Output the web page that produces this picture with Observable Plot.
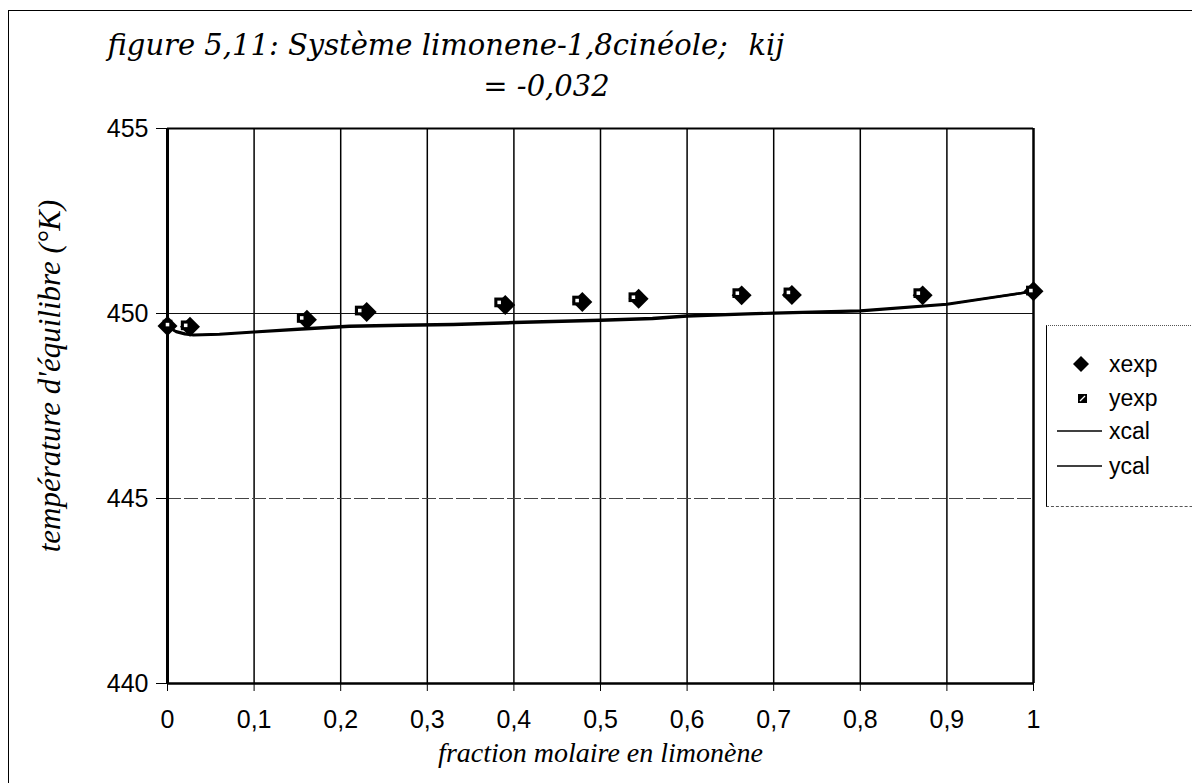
<!DOCTYPE html>
<html>
<head>
<meta charset="utf-8">
<script src="https://cdn.jsdelivr.net/npm/d3@7"></script>
<script src="https://cdn.jsdelivr.net/npm/@observablehq/plot@0.6"></script>
<style>
  html, body { margin: 0; padding: 0; background: #fff; overflow: hidden; }
  #wrap { position: relative; width: 1192px; height: 783px; overflow: hidden; }
  #border { position: absolute; left: 8px; top: 10px; width: 1300px; height: 900px;
            border-left: 1.5px solid #000; border-top: 1.5px solid #000; }
  #legend { position: absolute; left: 1046px; top: 325px; width: 200px; height: 180px;
            border-left: 1.5px solid #000; border-top: 1.5px dotted #555; border-bottom: 1.5px dashed #555;
            font-family: "Liberation Sans", Arial, sans-serif; font-size: 23px; color: #000; }
  .row { position: absolute; left: 0; height: 30px; display: flex; align-items: center; }
  .row svg { width: 60px; height: 30px; }
  .row span { margin-left: 2px; }
  #chart { position: absolute; left: 0; top: 0; }
</style>
</head>
<body>
<div id="wrap">
  <div id="border"></div>
  <div id="chart"></div>
  <div id="legend"></div>
</div>
<script>
// Experimental points: liquid (xexp) and vapour (yexp) compositions
const xexpX = [0, 0.026, 0.161, 0.230, 0.390, 0.479, 0.544, 0.663, 0.721, 0.872, 1.0];
const xexpT = [449.66, 449.64, 449.83, 450.04, 450.23, 450.31, 450.40, 450.49, 450.50, 450.49, 450.60];
const yexpX = [0, 0.021, 0.155, 0.222, 0.383, 0.473, 0.538, 0.658, 0.717, 0.867, 0.997];
const yexpT = [449.70, 449.68, 449.88, 450.08, 450.30, 450.35, 450.44, 450.55, 450.57, 450.55, 450.62];

// Calculated bubble (xcal) and dew (ycal) curves
const calX  = [0, 0.01, 0.02, 0.03, 0.06, 0.10, 0.16, 0.21, 0.27, 0.33, 0.40, 0.50, 0.56, 0.60, 0.67, 0.70, 0.80, 0.90, 1.0];
const xcalT = [449.64, 449.52, 449.46, 449.43, 449.45, 449.51, 449.60, 449.67, 449.70, 449.72, 449.77, 449.83, 449.88, 449.95, 450.00, 450.02, 450.08, 450.26, 450.60];
const ycalT = [449.64, 449.50, 449.44, 449.41, 449.43, 449.49, 449.57, 449.64, 449.67, 449.69, 449.74, 449.80, 449.85, 449.92, 449.98, 450.00, 450.06, 450.24, 450.60];

const xTicks = [0, 0.1, 0.2, 0.3, 0.4, 0.5, 0.6, 0.7, 0.8, 0.9, 1];
const yTicks = [440, 445, 450, 455];
const xTickLabels = ["0", "0,1", "0,2", "0,3", "0,4", "0,5", "0,6", "0,7", "0,8", "0,9", "1"];

const titleMain = "figure 5,11: Système limonene-1,8cinéole;";
const titleKij = "kij";
const titleLine2 = "= -0,032";
const xLabel = "fraction molaire en limonène";
const yLabel = "température d'équilibre (°K)";

const legendItems = [
  {name: "xexp", kind: "diamond"},
  {name: "yexp", kind: "square"},
  {name: "xcal", kind: "line"},
  {name: "ycal", kind: "line"}
];

const pts = (xs, ts) => xs.map((x, i) => ({x, t: ts[i]}));
const xexp = pts(xexpX, xexpT);
const yexp = pts(yexpX, yexpT);
const xcal = pts(calX, xcalT);
const ycal = pts(calX, ycalT);

const sans = "'Liberation Sans', Arial, sans-serif";
const serif = "'Liberation Serif', 'DejaVu Serif', serif";
const titleFont = "'DejaVu Serif', serif";

const chart = Plot.plot({
  width: 1192,
  height: 783,
  marginLeft: 167,
  marginRight: 159,
  marginTop: 128,
  marginBottom: 100,
  style: {fontFamily: sans, color: "#000", background: "transparent"},
  x: {domain: [0, 1]},
  y: {domain: [440, 455]},
  marks: [
    // grid
    Plot.ruleX(xTicks.slice(1, -1), {stroke: "#000", strokeWidth: 1.5}),
    Plot.ruleY([450], {stroke: "#111", strokeWidth: 1.2}),
    Plot.ruleY([445], {stroke: "#444", strokeWidth: 1, strokeDasharray: "14,3"}),
    // plot frame
    Plot.ruleX([0], {stroke: "#000", strokeWidth: 3}),
    Plot.ruleX([1], {stroke: "#000", strokeWidth: 2.5}),
    Plot.ruleY([440], {stroke: "#000", strokeWidth: 2.5}),
    Plot.ruleY([455], {stroke: "#000", strokeWidth: 2}),
    // axis ticks, with their labels as text marks
    Plot.axisX({ticks: xTicks, tickSize: 8, tickFormat: () => "", label: null}),
    Plot.axisY({ticks: yTicks, tickSize: 11, tickFormat: () => "", label: null}),
    Plot.text(xTicks, {x: d => d, text: (d, i) => xTickLabels[i], frameAnchor: "bottom", lineAnchor: "middle", dy: 36, fontSize: 25, fontFamily: sans, fill: "#000"}),
    Plot.text(yTicks, {y: d => d, text: d => String(d), frameAnchor: "left", textAnchor: "end", dx: -19, fontSize: 25, fontFamily: sans, fill: "#000"}),
    // calculated curves
    Plot.line(ycal, {x: "x", y: "t", stroke: "#000", strokeWidth: 2.4}),
    Plot.line(xcal, {x: "x", y: "t", stroke: "#000", strokeWidth: 2.4}),
    // experimental points
    Plot.dot(yexp, {x: "x", y: "t", symbol: "square", r: 5.5, fill: "#000", stroke: "none"}),
    Plot.dot(xexp, {x: "x", y: "t", symbol: "diamond2", r: 9, fill: "#000", stroke: "none"}),
    Plot.dot(yexp, {x: "x", y: "t", symbol: "square", r: 2, fill: "#fff", stroke: "none"}),
    // titles
    Plot.text([titleMain], {frameAnchor: "top", dx: -493, dy: -83, textAnchor: "start", lineAnchor: "middle", fontSize: 29, fontStyle: "italic", fontFamily: titleFont}),
    Plot.text([titleKij], {frameAnchor: "top", dx: 148, dy: -83, textAnchor: "start", lineAnchor: "middle", fontSize: 29, fontStyle: "italic", fontFamily: titleFont}),
    Plot.text([titleLine2], {frameAnchor: "top", dx: -54, dy: -42, textAnchor: "middle", lineAnchor: "middle", fontSize: 29, fontStyle: "italic", fontFamily: titleFont}),
    Plot.text([xLabel], {frameAnchor: "bottom", dx: 0, dy: 70, textAnchor: "middle", lineAnchor: "middle", fontSize: 28, fontStyle: "italic", fontFamily: serif}),
    Plot.text([yLabel], {frameAnchor: "left", dx: -117, dy: -30, rotate: -90, textAnchor: "middle", lineAnchor: "middle", fontSize: 31, fontStyle: "italic", fontFamily: serif})
  ]
});
document.getElementById("chart").appendChild(chart);

// Legend box on the right
const legend = document.getElementById("legend");
const rowTops = [23, 57, 90, 125];
legendItems.forEach((item, i) => {
  const row = document.createElement("div");
  row.className = "row";
  row.style.top = rowTops[i] + "px";
  let sym = "";
  if (item.kind === "diamond") sym = '<polygon points="34,7 42,15 34,23 26,15" fill="#000"/>';
  else if (item.kind === "square") sym = '<rect x="31" y="11" width="9" height="9" fill="#000"/><line x1="33" y1="18" x2="38" y2="13" stroke="#fff" stroke-width="1.2"/>';
  else sym = '<line x1="10" y1="15" x2="55" y2="15" stroke="#000" stroke-width="1.6"/>';
  row.innerHTML = `<svg viewBox="0 0 60 30">${sym}</svg><span>${item.name}</span>`;
  legend.appendChild(row);
});
</script>
</body>
</html>
